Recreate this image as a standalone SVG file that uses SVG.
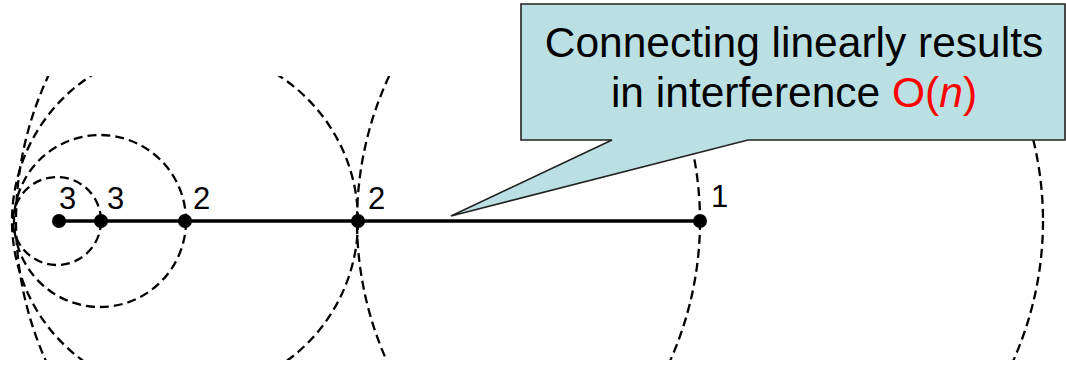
<svg xmlns="http://www.w3.org/2000/svg" width="1066" height="369" viewBox="0 0 1066 369">
  <style>
    .arc { fill: none; stroke: #000; stroke-width: 2.3; stroke-dasharray: 9 5; }
    .label { font-family: "Liberation Sans", Arial, sans-serif; font-size: 31px; fill: #000; }
    .callout-text { font-family: "Liberation Sans", Arial, sans-serif; font-size: 42.5px; fill: #000; text-anchor: middle; }
    .node { fill: #000; }
    .link { stroke: #000; stroke-width: 3.5; fill: none; }
  </style>
  <defs>
    <clipPath id="band">
      <rect x="0" y="76" width="1066" height="284"/>
    </clipPath>
  </defs>
  <rect width="1066" height="369" fill="#fff"/>
  <g id="ranges" clip-path="url(#band)">
    <circle class="arc" cx="57" cy="221" r="44"/>
    <circle class="arc" cx="100" cy="221" r="86"/>
    <circle class="arc" cx="185" cy="221" r="173"/>
    <circle class="arc" cx="358" cy="221" r="342"/>
    <circle class="arc" cx="700" cy="221" r="343"/>
  </g>
  <g id="connectors">
    <line class="link" x1="58" y1="221" x2="700" y2="221"/>
  </g>
  <g id="node-a"><circle class="node" cx="59" cy="221" r="7"/><text class="label" x="59" y="209">3</text></g>
  <g id="node-b"><circle class="node" cx="101" cy="221" r="7"/><text class="label" x="107" y="209">3</text></g>
  <g id="node-c"><circle class="node" cx="185" cy="221" r="7"/><text class="label" x="193" y="209">2</text></g>
  <g id="node-d"><circle class="node" cx="358" cy="221" r="7"/><text class="label" x="368" y="209">2</text></g>
  <g id="node-e"><circle class="node" cx="700" cy="221" r="7"/><text class="label" x="711" y="207">1</text></g>
  <g id="callout">
    <path d="M521,4 H1065 V140 H748 L451,216 L612,140 H521 Z" fill="#BBE0E3" stroke="#222" stroke-width="1.6" stroke-linejoin="miter"/>
    <text class="callout-text" x="794" y="57">Connecting linearly results</text>
    <text class="callout-text" x="794" y="107">in interference <tspan fill="#FF0000">O(<tspan font-style="italic">n</tspan>)</tspan></text>
  </g>
</svg>
